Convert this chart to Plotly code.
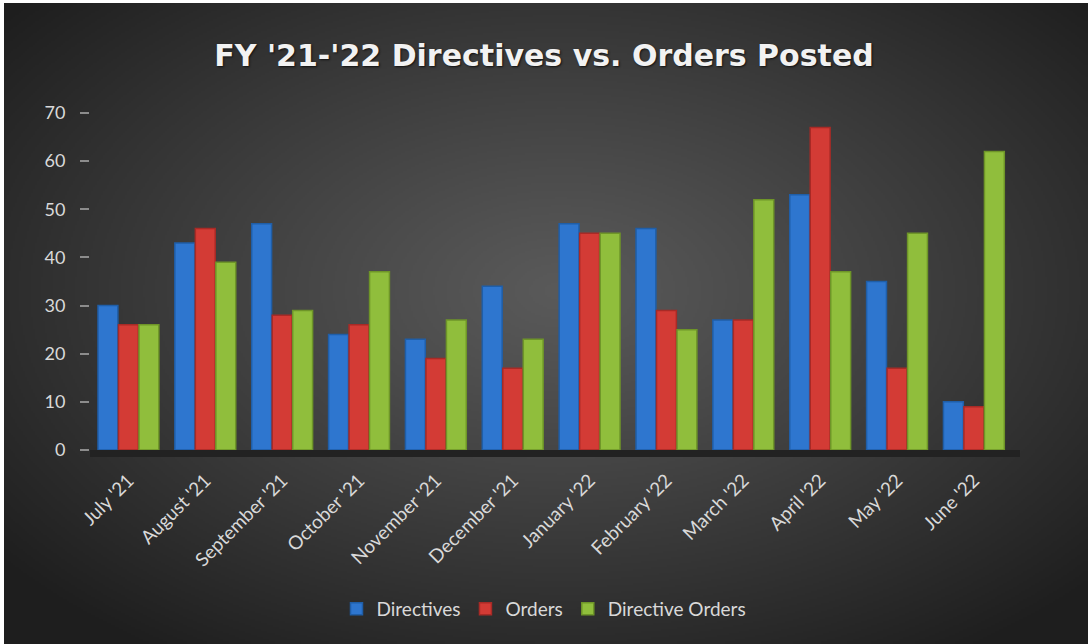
import base64
import struct
import zlib

import numpy as np
import plotly.graph_objects as go

# ---------------- data ----------------
months = ["July '21", "August '21", "September '21", "October '21", "November '21",
          "December '21", "January '22", "February '22", "March '22", "April '22",
          "May '22", "June '22"]
directives = [30, 43, 47, 24, 23, 34, 47, 46, 27, 53, 35, 10]
orders = [26, 46, 28, 26, 19, 17, 45, 29, 27, 67, 17, 9]
directive_orders = [26, 39, 29, 37, 27, 23, 45, 25, 52, 37, 45, 62]
y_ticks = [0, 10, 20, 30, 40, 50, 60, 70]

series_names = ["Directives", "Orders", "Directive Orders"]
series_colors = ["#2e76cf", "#d33b35", "#90be3c"]
series_lines = ["#1f5ea8", "#a82a26", "#6e9528"]

# ---------------- background (radial gradient) ----------------
W, H = 1088, 644
S = 2
w, h = W // S, H // S
yy, xx = np.mgrid[0:h, 0:w]
r = np.sqrt(((xx * S - 560) / 720.0) ** 2 + ((yy * S - 290) / 440.0) ** 2)
t = np.clip(r, 0, 1) ** 1.1
c0 = np.array([0x5a, 0x5a, 0x5a], dtype=float)
c1 = np.array([0x1e, 0x1e, 0x1e], dtype=float)
img = c0 * (1 - t[..., None]) + c1 * t[..., None]
img = img.astype(np.uint8)


def png_bytes(a):
    hh, ww, _ = a.shape
    raw = b"".join(b"\x00" + a[i].tobytes() for i in range(hh))

    def chunk(tag, data):
        c = struct.pack(">I", len(data)) + tag + data
        return c + struct.pack(">I", zlib.crc32(tag + data) & 0xFFFFFFFF)

    return (b"\x89PNG\r\n\x1a\n"
            + chunk(b"IHDR", struct.pack(">IIBBBBB", ww, hh, 8, 2, 0, 0, 0))
            + chunk(b"IDAT", zlib.compress(raw, 9))
            + chunk(b"IEND", b""))


bg_uri = "data:image/png;base64," + base64.b64encode(png_bytes(img)).decode()

# ---------------- layout geometry ----------------
ml, mr, mt, mb = 90, 68, 113, 194
pw, ph = W - ml - mr, H - mt - mb

fig = go.Figure()
for name, vals, col, lc in zip(series_names, [directives, orders, directive_orders],
                               series_colors, series_lines):
    fig.add_trace(go.Bar(
        x=months, y=vals, name=name,
        marker=dict(color=col, line=dict(color=lc, width=1.5)),
    ))

fig.update_layout(
    width=W, height=H,
    margin=dict(l=ml, r=mr, t=mt, b=mb),
    paper_bgcolor="#252525",
    plot_bgcolor="rgba(0,0,0,0)",
    barmode="group",
    bargap=0.2,
    bargroupgap=0.03,
    font=dict(family="Lato, 'Open Sans', sans-serif", color="#d9d9d9"),
    title=dict(
        text="FY '21-'22 Directives vs. Orders Posted",
        x=0.5, xanchor="center", xref="container",
        y=1 - 55 / H, yref="container", yanchor="middle",
        font=dict(family="'DejaVu Sans', sans-serif", size=30, color="#f2f2f2",
                  weight="bold", shadow="1px 1px 2px #111"),
    ),
    xaxis=dict(
        type="category",
        range=[-0.5, 11.6],
        tickangle=-45,
        tickfont=dict(size=19, color="#d9d9d9"),
        showgrid=False,
        showline=True, linecolor="#222222", linewidth=7,
        ticks="",
        ticklabelstandoff=5,
        zeroline=False,
    ),
    yaxis=dict(
        range=[0, 70],
        tickvals=y_ticks,
        tickfont=dict(size=18, color="#d9d9d9"),
        showgrid=False,
        zeroline=False,
        ticks="outside", ticklen=9, tickcolor="#8c8c8c", tickwidth=1.5,
        ticklabelstandoff=11,
    ),
    yaxis2=dict(
        overlaying="y", side="left",
        range=[-2.5, 67.5],
        tickvals=y_ticks,
        showticklabels=False,
        showgrid=True, gridcolor="#8c8c8c", gridwidth=1.5,
        zeroline=False,
    ),
    legend=dict(
        orientation="h",
        x=0.5, xanchor="center", xref="container",
        y=1 - 609 / H, yanchor="middle", yref="container",
        font=dict(size=19, color="#d9d9d9"),
        bgcolor="rgba(0,0,0,0)",
        itemwidth=30,
        tracegroupgap=0,
    ),
    images=[dict(
        source=bg_uri, xref="paper", yref="paper",
        x=-ml / pw, y=1 + mt / ph, sizex=W / pw, sizey=H / ph,
        xanchor="left", yanchor="top", sizing="stretch", layer="below",
    )],
    shapes=[
        dict(type="rect", xref="paper", yref="paper",
             x0=-ml / pw, x1=-ml / pw + 4 / pw, y0=-mb / ph, y1=1 + mt / ph,
             fillcolor="#ffffff", line=dict(width=0), layer="above"),
        dict(type="rect", xref="paper", yref="paper",
             x0=-ml / pw, x1=1 + mr / pw, y0=1 + mt / ph - 3 / ph, y1=1 + mt / ph,
             fillcolor="#ffffff", line=dict(width=0), layer="above"),
    ],
)

fig.write_html(
    "out.html",
    config={"displayModeBar": False},
    post_script=("document.documentElement.style.margin='0';"
                 "document.documentElement.style.background='#1e1e1e';"
                 "document.body.style.margin='0';"
                 "document.body.style.overflow='hidden';"
                 "document.body.style.background='#1e1e1e';"),
)
